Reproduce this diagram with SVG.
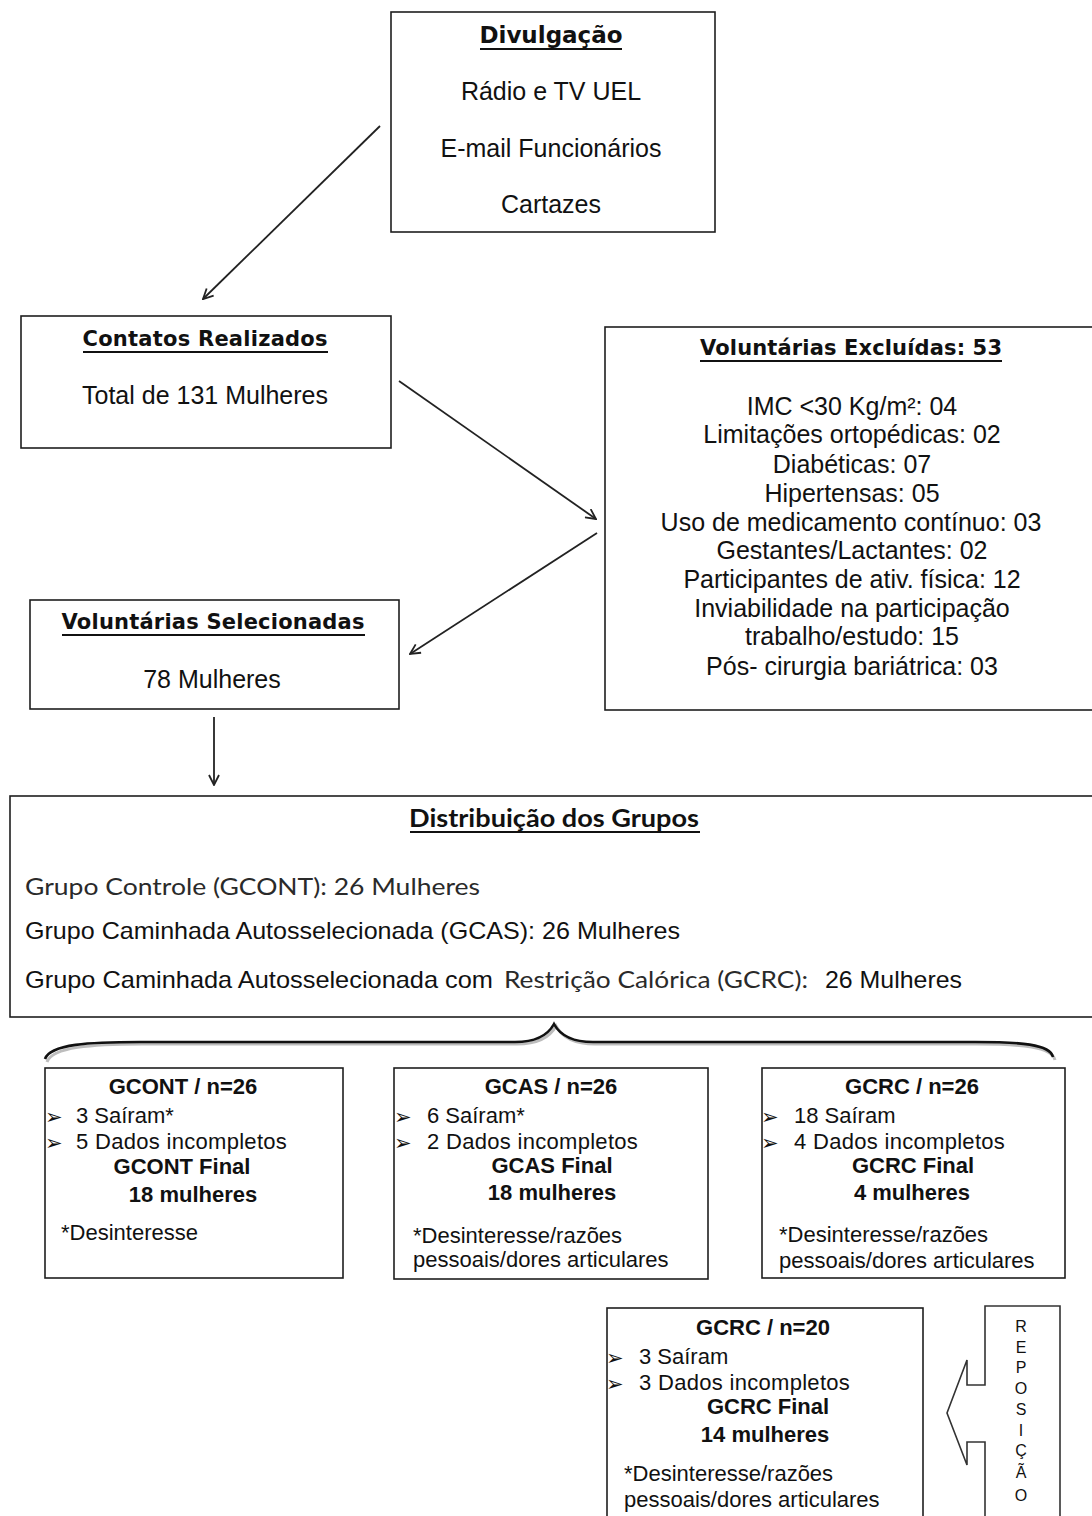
<svg xmlns="http://www.w3.org/2000/svg" width="1092" height="1516" viewBox="0 0 1092 1516">
<style>
.box{fill:#fff;stroke:#1e1e1e;stroke-width:1.6}
.t{font-family:"Liberation Sans",Arial,sans-serif;font-size:25px;fill:#111}
.h{font-family:"DejaVu Sans",Verdana,sans-serif;font-weight:bold;font-size:21px;fill:#111}
.s{font-family:"Liberation Sans",Arial,sans-serif;font-size:22px;fill:#111}
.sb{font-family:"Liberation Sans",Arial,sans-serif;font-size:22px;font-weight:bold;fill:#111}
.bul{font-family:"DejaVu Sans",sans-serif;font-size:21px;fill:#111}
.ul{stroke:#111;stroke-width:2}
.c{text-anchor:middle}
.cal{font-family:Lato,"Open Sans",sans-serif;font-size:24px;fill:#2a2a2a}
.nar{font-family:"Liberation Sans",Arial,sans-serif;font-size:24px;fill:#111}
.rep{font-family:"Liberation Sans",Arial,sans-serif;font-size:16px;fill:#111;text-anchor:middle}
.conn{fill:none;stroke:#222;stroke-width:1.8}
</style>
<defs>
<marker id="ah" viewBox="0 0 12 12" refX="11" refY="6" markerWidth="12" markerHeight="12" markerUnits="userSpaceOnUse" orient="auto">
<path d="M1,1 L11,6 L1,11" fill="none" stroke="#222" stroke-width="1.8"/>
</marker>
</defs>
<rect width="1092" height="1516" fill="#fff"/>

<g id="connectors">
<line class="conn" x1="380" y1="126" x2="203" y2="299" marker-end="url(#ah)"/>
<line class="conn" x1="399" y1="381" x2="596" y2="519" marker-end="url(#ah)"/>
<line class="conn" x1="597" y1="533" x2="410" y2="654" marker-end="url(#ah)"/>
<line class="conn" x1="214" y1="717" x2="214" y2="785" marker-end="url(#ah)"/>
<path d="M47,1062 C52,1047 92,1044 142,1044 L517,1044 C537,1044 550,1037 556,1026 C562,1037 575,1044 595,1044 L977,1044 C1022,1044 1052,1047 1055,1060" fill="none" stroke="#bdbdbd" stroke-width="3"/>
<path d="M45,1059 C50,1044 90,1042 140,1042 L515,1042 C535,1042 548,1035 554,1024 C560,1035 573,1042 593,1042 L975,1042 C1020,1042 1050,1044 1053,1057" fill="none" stroke="#111" stroke-width="2.6"/>
</g>

<g id="divulgacao">
<rect class="box" x="391" y="12" width="324" height="220"/>
<text class="h c" x="551" y="43" style="font-size:23px">Divulgação</text>
<line class="ul" x1="480" y1="49" x2="622" y2="49"/>
<text class="t c" x="551" y="100">Rádio e TV UEL</text>
<text class="t c" x="551" y="157">E-mail Funcionários</text>
<text class="t c" x="551" y="213">Cartazes</text>
</g>

<g id="contatos">
<rect class="box" x="21" y="316" width="370" height="132"/>
<text class="h c" x="205" y="346" textLength="245">Contatos Realizados</text>
<line class="ul" x1="83" y1="352" x2="328" y2="352"/>
<text class="t c" x="205" y="404">Total de 131 Mulheres</text>
</g>

<g id="excluidas">
<rect class="box" x="605" y="327" width="495" height="383"/>
<text class="h c" x="851" y="355" textLength="302">Voluntárias Excluídas: 53</text>
<line class="ul" x1="700" y1="361" x2="1002" y2="361"/>
<text class="t c" x="852" y="415">IMC &lt;30 Kg/m²: 04</text>
<text class="t c" x="852" y="443">Limitações ortopédicas: 02</text>
<text class="t c" x="852" y="473">Diabéticas: 07</text>
<text class="t c" x="852" y="502">Hipertensas: 05</text>
<text class="t c" x="851" y="531">Uso de medicamento contínuo: 03</text>
<text class="t c" x="852" y="559">Gestantes/Lactantes: 02</text>
<text class="t c" x="852" y="588">Participantes de ativ. física: 12</text>
<text class="t c" x="852" y="617">Inviabilidade na participação</text>
<text class="t c" x="852" y="645">trabalho/estudo: 15</text>
<text class="t c" x="852" y="675">Pós- cirurgia bariátrica: 03</text>
</g>

<g id="selecionadas">
<rect class="box" x="30" y="600" width="369" height="109"/>
<text class="h c" x="213" y="629" textLength="303">Voluntárias Selecionadas</text>
<line class="ul" x1="62" y1="635" x2="365" y2="635"/>
<text class="t c" x="212" y="688">78 Mulheres</text>
</g>

<g id="distribuicao">
<rect class="box" x="10" y="796" width="1092" height="221"/>
<text x="554" y="827" text-anchor="middle" style="font-family:Lato,'Open Sans',sans-serif;font-weight:bold;font-size:24px;fill:#111" textLength="290" lengthAdjust="spacingAndGlyphs">Distribuição dos Grupos</text>
<line class="ul" x1="410" y1="832" x2="700" y2="832"/>
<text class="cal" x="25" y="895" textLength="455" lengthAdjust="spacingAndGlyphs">Grupo Controle (GCONT): 26 Mulheres</text>
<text class="nar" x="25" y="939" textLength="655" lengthAdjust="spacingAndGlyphs">Grupo Caminhada Autosselecionada (GCAS): 26 Mulheres</text>
<text class="nar" x="25" y="988" textLength="468" lengthAdjust="spacingAndGlyphs">Grupo Caminhada Autosselecionada com</text>
<text class="cal" x="504" y="988" textLength="304" lengthAdjust="spacingAndGlyphs">Restrição Calórica (GCRC):</text>
<text class="nar" x="825" y="988" textLength="137" lengthAdjust="spacingAndGlyphs">26 Mulheres</text>
</g>

<g id="gcont">
<rect class="box" x="45" y="1068" width="298" height="210"/>
<text class="sb c" x="183" y="1094">GCONT / n=26</text>
<text class="bul" x="45" y="1124">➢</text>
<text class="s" x="76" y="1123">3 Saíram*</text>
<text class="bul" x="45" y="1150">➢</text>
<text class="s" x="76" y="1149" style="letter-spacing:0.3px">5 Dados incompletos</text>
<text class="sb c" x="182" y="1174">GCONT Final</text>
<text class="sb c" x="193" y="1202">18 mulheres</text>
<text class="s" x="61" y="1240">*Desinteresse</text>
</g>

<g id="gcas">
<rect class="box" x="394" y="1068" width="314" height="211"/>
<text class="sb c" x="551" y="1094">GCAS / n=26</text>
<text class="bul" x="394" y="1124">➢</text>
<text class="s" x="427" y="1123">6 Saíram*</text>
<text class="bul" x="394" y="1150">➢</text>
<text class="s" x="427" y="1149" style="letter-spacing:0.3px">2 Dados incompletos</text>
<text class="sb c" x="552" y="1173">GCAS Final</text>
<text class="sb c" x="552" y="1200">18 mulheres</text>
<text class="s" x="413" y="1243">*Desinteresse/razões</text>
<text class="s" x="413" y="1267">pessoais/dores articulares</text>
</g>

<g id="gcrc">
<rect class="box" x="762" y="1068" width="303" height="210"/>
<text class="sb c" x="912" y="1094">GCRC / n=26</text>
<text class="bul" x="761" y="1124">➢</text>
<text class="s" x="794" y="1123">18 Saíram</text>
<text class="bul" x="761" y="1150">➢</text>
<text class="s" x="794" y="1149" style="letter-spacing:0.3px">4 Dados incompletos</text>
<text class="sb c" x="913" y="1173">GCRC Final</text>
<text class="sb c" x="912" y="1200">4 mulheres</text>
<text class="s" x="779" y="1242">*Desinteresse/razões</text>
<text class="s" x="779" y="1268">pessoais/dores articulares</text>
</g>

<g id="gcrc20">
<rect class="box" x="607" y="1308" width="316" height="230"/>
<text class="sb c" x="763" y="1335">GCRC / n=20</text>
<text class="bul" x="606" y="1365">➢</text>
<text class="s" x="639" y="1364">3 Saíram</text>
<text class="bul" x="606" y="1391">➢</text>
<text class="s" x="639" y="1390" style="letter-spacing:0.3px">3 Dados incompletos</text>
<text class="sb c" x="768" y="1414">GCRC Final</text>
<text class="sb c" x="765" y="1442">14 mulheres</text>
<text class="s" x="624" y="1481">*Desinteresse/razões</text>
<text class="s" x="624" y="1507">pessoais/dores articulares</text>
</g>

<g id="reposicao">
<path d="M985,1530 V1442 H967 V1465 L947,1413 L967,1360 V1385 H985 V1306 H1060 V1530" fill="#fff" stroke="#333" stroke-width="1.6"/>
<text class="rep" x="1021" y="1332">R</text>
<text class="rep" x="1021" y="1353">E</text>
<text class="rep" x="1021" y="1373">P</text>
<text class="rep" x="1021" y="1394">O</text>
<text class="rep" x="1021" y="1415">S</text>
<text class="rep" x="1021" y="1436">I</text>
<text class="rep" x="1021" y="1456">Ç</text>
<text class="rep" x="1021" y="1478">Ã</text>
<text class="rep" x="1021" y="1501">O</text>
</g>
</svg>
